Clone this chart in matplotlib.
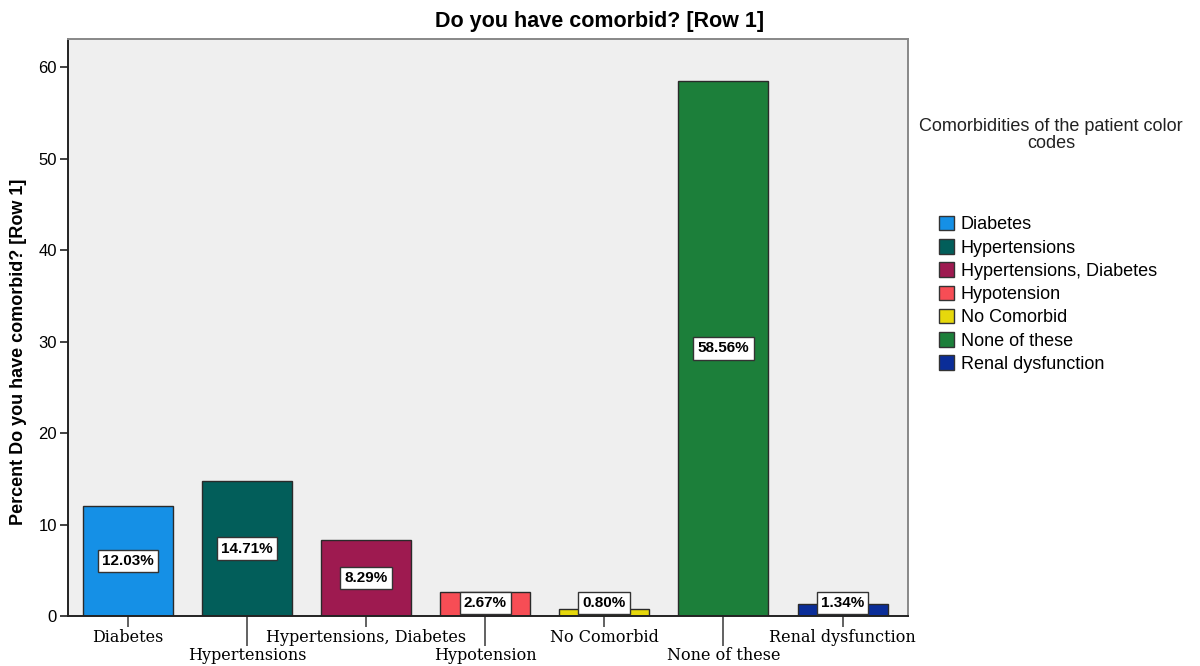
import matplotlib
matplotlib.use("Agg")
import matplotlib.pyplot as plt
from matplotlib.patches import Patch
import numpy as np

categories = ["Diabetes", "Hypertensions", "Hypertensions, Diabetes", "Hypotension",
              "No Comorbid", "None of these", "Renal dysfunction"]
percents = [12.03, 14.71, 8.29, 2.67, 0.80, 58.56, 1.34]
colors = ["#1590e6", "#025e5a", "#9e1a50", "#f74d55", "#e6d80c", "#1c7f3a", "#0a2d98"]
yticks = [0, 10, 20, 30, 40, 50, 60]

plt.rcParams["font.family"] = ["Liberation Sans", "DejaVu Sans"]

fig = plt.figure(figsize=(12, 6.66), dpi=100)
ax = fig.add_axes([68 / 1200, 1 - 616 / 666, 840 / 1200, 577 / 666])
ax.set_facecolor("#efefef")

x = np.arange(len(categories))
ax.bar(x, percents, width=0.756, color=colors, edgecolor="#2a2a2a", linewidth=1.0, zorder=2)

# value labels in white boxes
for xi, v in zip(x, percents):
    ax.text(xi, max(v, 2.8) / 2, f"{v:.2f}%", ha="center", va="center",
            fontsize=11, fontweight="bold", zorder=4,
            bbox=dict(boxstyle="square,pad=0.28", facecolor="white",
                      edgecolor="#333333", linewidth=1.0))

ax.set_xlim(-0.505, 6.55)
ax.set_ylim(0, 63.1)
ax.set_yticks(yticks)
ax.tick_params(axis="y", length=6, width=1.3, color="#333333", labelsize=12, pad=2)

# staggered category labels: even positions on major ticks, odd on longer minor ticks
even = x[::2]
odd = x[1::2]
ax.set_xticks(even, [categories[i] for i in even])
ax.set_xticks(odd, [categories[i] for i in odd], minor=True)
serif = ["DejaVu Serif"]
for lbl in ax.get_xticklabels(minor=False) + ax.get_xticklabels(minor=True):
    lbl.set_family(serif)
ax.tick_params(axis="x", which="major", length=8, width=1.3, color="#555555",
               labelsize=11.5, pad=1)
ax.tick_params(axis="x", which="minor", length=21.5, width=1.3, color="#555555",
               labelsize=11.5, pad=1)

for side in ["left", "bottom"]:
    ax.spines[side].set_color("#222222")
    ax.spines[side].set_linewidth(1.4)
for side in ["top", "right"]:
    ax.spines[side].set_color("#888888")
    ax.spines[side].set_linewidth(1.4)

fig.text(0.5, 1 - 21 / 666, "Do you have comorbid? [Row 1]", ha="center", va="center",
         fontsize=15.5, fontweight="bold")
fig.text(19 / 1200, 1 - 352 / 666, "Percent Do you have comorbid? [Row 1]", rotation=90,
         ha="center", va="center", fontsize=13, fontweight="bold")

fig.text(1051 / 1200, 1 - 135 / 666, "Comorbidities of the patient color\ncodes",
         ha="center", va="center", fontsize=13, linespacing=0.95, color="#222222")

handles = [Patch(facecolor=c, edgecolor="#333333", linewidth=1.0) for c in colors]
fig.legend(handles, categories, loc="upper left",
           bbox_to_anchor=(939 / 1200, 1 - 216 / 666), frameon=False,
           fontsize=13, handlelength=0.85, handleheight=0.85, handletextpad=0.35,
           labelspacing=0.32, borderpad=0, borderaxespad=0)

fig.savefig("out.png", dpi=100)
